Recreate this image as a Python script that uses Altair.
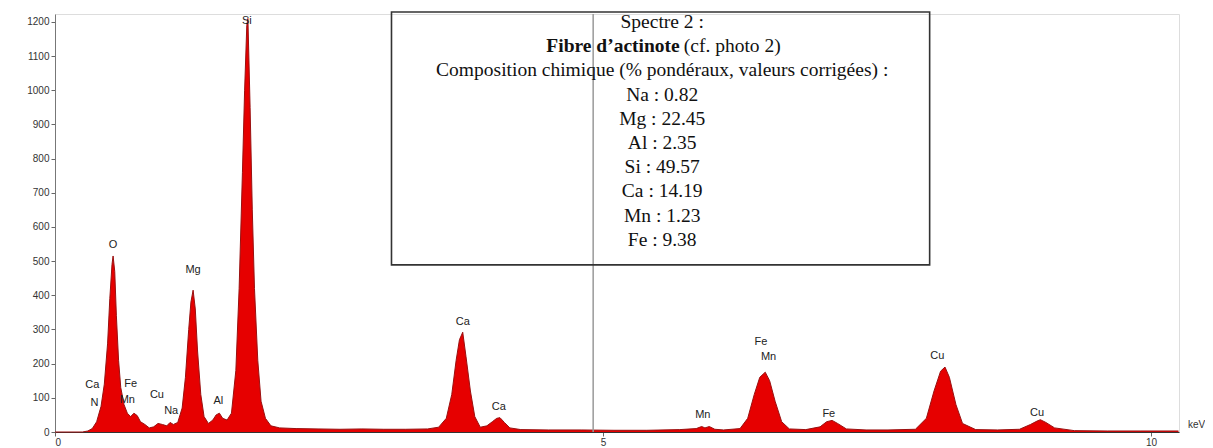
import altair as alt
import pandas as pd

# Spectrum outline (keV, counts)
energy = [0.00, 0.25, 0.30, 0.34, 0.38, 0.42, 0.45, 0.48, 0.50, 0.52, 0.53, 0.545, 0.56, 0.58, 0.60,
          0.63, 0.66, 0.69, 0.72, 0.75, 0.78, 0.82, 0.86, 0.90, 0.94, 0.98, 1.02, 1.05, 1.08, 1.12,
          1.16, 1.19, 1.22, 1.24, 1.26, 1.28, 1.30, 1.33, 1.36, 1.40, 1.44, 1.47, 1.50, 1.53, 1.57,
          1.61, 1.65, 1.68, 1.71, 1.73, 1.75, 1.76, 1.78, 1.80, 1.82, 1.85, 1.88, 1.92, 1.97, 2.05,
          2.2, 2.4, 2.6, 2.8, 3.0, 3.2, 3.4, 3.5, 3.57, 3.62, 3.66, 3.69, 3.72, 3.75, 3.79,
          3.83, 3.88, 3.94, 3.99, 4.03, 4.06, 4.10, 4.15, 4.25, 4.5, 4.8, 5.1, 5.4, 5.7, 5.85,
          5.9, 5.93, 5.97, 6.02, 6.1, 6.25, 6.32, 6.38, 6.43, 6.48, 6.52, 6.57, 6.63, 6.70, 6.85,
          6.98, 7.04, 7.09, 7.14, 7.22, 7.4, 7.6, 7.85, 7.95, 8.02, 8.08, 8.12, 8.16, 8.22, 8.28,
          8.4, 8.6, 8.8, 8.9, 8.96, 8.99, 9.04, 9.12, 9.3, 9.6, 9.9, 10.25]
counts = [0, 0, 3, 10, 30, 75, 140, 260, 390, 490, 515, 470, 340, 210, 130,
          80, 55, 45, 55, 48, 30, 22, 12, 15, 25, 22, 18, 28, 22, 28,
          70, 160, 300, 380, 415, 360, 240, 110, 45, 25, 35, 50, 55, 40, 35,
          55, 180, 420, 760, 1000, 1190, 1210, 950, 650, 420, 210, 90, 40, 18, 12,
          10, 9, 8, 9, 8, 8, 9, 14, 40, 110, 210, 270, 292, 220, 120,
          45, 14, 18, 30, 40, 42, 28, 12, 7, 6, 6, 5, 5, 7, 10,
          16, 12, 16, 8, 6, 10, 40, 110, 160, 175, 150, 90, 30, 9, 7,
          15, 30, 34, 25, 9, 6, 6, 8, 40, 120, 178, 190, 160, 80, 25,
          7, 6, 8, 22, 32, 36, 28, 12, 4, 3, 3, 3]

# Peak labels
label_text = ["Si", "O", "Mg", "Ca", "N", "Fe", "Mn", "Cu", "Na", "Al", "Ca", "Ca",
              "Mn", "Fe", "Mn", "Fe", "Cu", "Cu"]
label_kev = [1.75, 0.53, 1.26, 0.34, 0.36, 0.69, 0.66, 0.93, 1.06, 1.49, 3.72, 4.05,
             5.91, 6.44, 6.51, 7.06, 8.05, 8.96]
label_cnt = [1202, 547, 474, 137, 85, 140, 94, 108, 61, 91, 322, 73,
             50, 263, 219, 53, 222, 56]

# Composition box
box_lines = ["Spectre 2 :", "", "Composition chimique (% pondéraux, valeurs corrigées) :",
             "Na : 0.82", "Mg : 22.45", "Al : 2.35", "Si : 49.57", "Ca : 14.19",
             "Mn : 1.23", "Fe : 9.38"]
bold_part = "Fibre d\u2019actinote"
normal_part = "(cf. photo 2)"

y_ticks = list(range(0, 1300, 100))
x_ticks = [0, 5, 10]

W, H = 1124, 418
YMAX = 1223
XMAX = 10.255
FS = 19.5

spec = pd.DataFrame({"keV": energy, "counts": counts})
labels = pd.DataFrame({"t": label_text, "keV": label_kev, "counts": label_cnt})

xs = alt.Scale(domain=[0, XMAX], nice=False, zero=False)
ys = alt.Scale(domain=[0, YMAX], nice=False)
x_axis = alt.Axis(values=x_ticks, format="d", title=None, grid=False, labelFontSize=10,
                  labelColor="#333", tickColor="#666", domainColor="#333",
                  labelFont="Liberation Sans", tickSize=4, labelPadding=1)
y_axis = alt.Axis(values=y_ticks, format="d", title=None, grid=False,
                  labelFontSize=10, labelColor="#333", tickColor="#666", labelOverlap=False,
                  domainColor="#777", labelFont="Liberation Sans", tickSize=4)


def X(field):
    return alt.X(field, scale=xs, axis=x_axis)


def Y(field):
    return alt.Y(field, scale=ys, axis=y_axis)


area = alt.Chart(spec).mark_area(color="#e60000", interpolate="linear").encode(
    x=X("keV:Q"), y=Y("counts:Q"))
line = alt.Chart(spec).mark_line(color="#9a1010", strokeWidth=1).encode(
    x=X("keV:Q"), y=Y("counts:Q"))

cursor = alt.Chart(pd.DataFrame({"keV": [4.91]})).mark_rule(color="#999", strokeWidth=1.5).encode(
    x=X("keV:Q"))

peak_labels = alt.Chart(labels).mark_text(font="Liberation Sans", fontSize=11, color="#222",
                                          baseline="middle").encode(
    x=X("keV:Q"), y=Y("counts:Q"), text="t:N")

box_df = pd.DataFrame({"x1": [3.07], "x2": [7.98], "y1": [489], "y2": [1229]})
box = alt.Chart(box_df).mark_rect(fillOpacity=0, stroke="#333", strokeWidth=1.6).encode(
    x=X("x1:Q"), x2="x2:Q", y=Y("y1:Q"), y2="y2:Q")

px_per_cnt = H / YMAX
line_y = [(432 - (22 + i * 24.2)) / px_per_cnt for i in range(len(box_lines))]
box_txt_df = pd.DataFrame({"t": box_lines, "keV": [5.54] * len(box_lines), "counts": line_y})
box_text = alt.Chart(box_txt_df).mark_text(font="Liberation Serif", fontSize=FS, color="#111",
                                           align="center", baseline="middle").encode(
    x=X("keV:Q"), y=Y("counts:Q"), text="t:N")

split_kev = 5.70
bold_txt = alt.Chart(pd.DataFrame({"t": [bold_part], "keV": [split_kev], "counts": [line_y[1]]})).mark_text(
    font="Liberation Serif", fontSize=FS, fontWeight="bold", color="#111", align="right",
    baseline="middle").encode(x=X("keV:Q"), y=Y("counts:Q"), text="t:N")
norm_txt = alt.Chart(pd.DataFrame({"t": [normal_part], "keV": [split_kev], "counts": [line_y[1]]})).mark_text(
    font="Liberation Serif", fontSize=FS, color="#111", align="left", dx=4,
    baseline="middle").encode(x=X("keV:Q"), y=Y("counts:Q"), text="t:N")

kev_label = alt.Chart(pd.DataFrame({"t": ["keV"]})).mark_text(
    font="Liberation Sans", fontSize=10, color="#333", align="left", baseline="middle").encode(
    x=alt.value(W + 9), y=alt.value(H - 7), text="t:N")

chart = alt.layer(area, line, cursor, peak_labels, box, box_text, bold_txt, norm_txt, kev_label).properties(
    width=W, height=H,
    autosize=alt.AutoSizeParams(type="none"),
    padding={"left": 47, "top": 6, "right": 26, "bottom": 20},
).configure_view(stroke="#888", strokeWidth=2).configure(background="white")

chart.save("out.html", embed_options={"renderer": "svg", "actions": False})
